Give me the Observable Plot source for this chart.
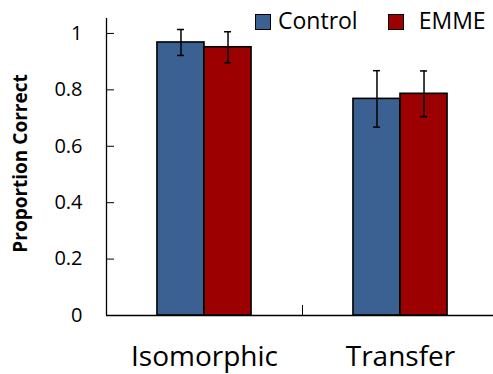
<!DOCTYPE html>
<html><head><meta charset="utf-8">
<script src="https://cdn.jsdelivr.net/npm/d3@7"></script>
<script src="https://cdn.jsdelivr.net/npm/@observablehq/plot@0.6"></script>
<style>
body{margin:0;background:#fff;}
#wrap{position:relative;width:493px;height:374px;font-family:"Open Sans",sans-serif;}
#legend{position:absolute;top:9px;left:255px;display:flex;align-items:center;font-size:23px;line-height:23px;color:#000;}
.item{display:flex;align-items:center;}
.sw{box-sizing:border-box;width:16px;height:16px;border:1.6px solid #000;display:inline-block;margin-top:3px;}
</style></head><body><div id="wrap"><div id="legend"></div></div>
<script>
const categories = ["Isomorphic", "Transfer"];
const groups = ["Control", "EMME"];
const controlValues = [0.968, 0.768];
const emmeValues = [0.951, 0.786];
const controlErrors = [0.046, 0.100];
const emmeErrors = [0.055, 0.081];
const colors = ["#3A6191", "#9C0000"];
const yTicks = [0, 0.2, 0.4, 0.6, 0.8, 1];
const yLabel = "Proportion Correct";

const barFrac = 0.24;
const capFrac = 0.018;
const rows = [];
categories.forEach((cat, i) => {
  [controlValues, emmeValues].forEach((vals, j) => {
    const err = [controlErrors, emmeErrors][j][i];
    const left = i + 0.5 + (j - 1) * barFrac;
    rows.push({cat, group: groups[j], value: vals[i], lo: vals[i] - err, hi: vals[i] + err,
      x1: left, x2: left + barFrac, xc: left + barFrac / 2});
  });
});

const chart = Plot.plot({
  width: 493, height: 374,
  marginTop: 18, marginBottom: 59, marginLeft: 106, marginRight: 0,
  style: {fontFamily: "Open Sans", background: "transparent", overflow: "visible", color: "#000"},
  x: {domain: [0, 2], range: [106, 498]},
  y: {domain: [0, 1.053]},
  color: {domain: groups, range: colors},
  marks: [
    Plot.rect(rows, {x1: "x1", x2: "x2", y1: 0, y2: "value", fill: "group", stroke: "#000", strokeWidth: 1.6}),
    Plot.ruleX(rows, {x: "xc", y1: "lo", y2: "hi", stroke: "#000", strokeWidth: 1.5}),
    Plot.ruleY(rows, {y: "hi", x1: d => d.xc - capFrac, x2: d => d.xc + capFrac, stroke: "#000", strokeWidth: 1.5}),
    Plot.ruleY(rows, {y: "lo", x1: d => d.xc - capFrac, x2: d => d.xc + capFrac, stroke: "#000", strokeWidth: 1.5}),
    Plot.ruleY([0], {stroke: "#000", strokeWidth: 1.3}),
    Plot.ruleX([0], {stroke: "#000", strokeWidth: 1.3}),
    Plot.axisY({ticks: yTicks, tickSize: -8, tickPadding: 32, fontSize: 20, tickFormat: d => `${d}`, label: null, stroke: "#000"}),
    Plot.axisX({ticks: categories.map((c, i) => i + 0.5), tickSize: 0, tickPadding: 31, fontSize: 28,
      tickFormat: d => categories[Math.round(d - 0.5)], label: null}),
    Plot.axisX({ticks: [1], tickSize: -10, tickFormat: () => "", label: null, stroke: "#000"}),
    Plot.text([yLabel], {frameAnchor: "left", textAnchor: "middle", rotate: -90, dx: -86, dy: -3.5, fontWeight: "bold", fontSize: 19, fill: "#000"})
  ]
});
document.getElementById("wrap").prepend(chart);

const legend = document.getElementById("legend");
groups.forEach((g, j) => {
  const item = document.createElement("div");
  item.className = "item";
  item.style.marginRight = j === 0 ? "30px" : "0";
  const sw = document.createElement("span");
  sw.className = "sw";
  sw.style.background = colors[j];
  sw.style.marginRight = j === 0 ? "7px" : "15px";
  const t = document.createElement("span");
  t.textContent = g;
  item.append(sw, t);
  legend.append(item);
});
</script></body></html>
